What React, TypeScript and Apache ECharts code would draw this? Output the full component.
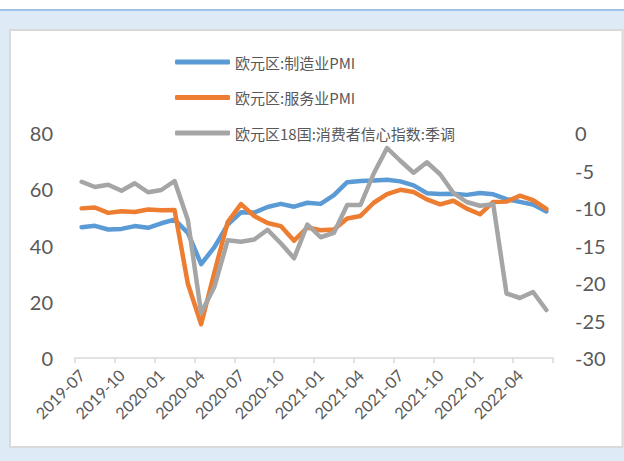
import React, { useEffect, useRef } from "react";
import * as echarts from "echarts";

const months: string[] = [
  "2019-07", "2019-08", "2019-09", "2019-10", "2019-11", "2019-12",
  "2020-01", "2020-02", "2020-03", "2020-04", "2020-05", "2020-06",
  "2020-07", "2020-08", "2020-09", "2020-10", "2020-11", "2020-12",
  "2021-01", "2021-02", "2021-03", "2021-04", "2021-05", "2021-06",
  "2021-07", "2021-08", "2021-09", "2021-10", "2021-11", "2021-12",
  "2022-01", "2022-02", "2022-03", "2022-04", "2022-05", "2022-06",
];

const manufacturingPMI: number[] = [
  46.5, 47.0, 45.7, 45.9, 46.9, 46.3, 47.9, 49.2, 44.5, 33.4, 39.4, 47.4,
  51.8, 51.7, 53.7, 54.8, 53.8, 55.2, 54.8, 57.9, 62.5, 62.9, 63.1, 63.4,
  62.8, 61.4, 58.6, 58.3, 58.4, 58.0, 58.7, 58.2, 56.5, 55.5, 54.6, 52.1,
];

const servicesPMI: number[] = [
  53.2, 53.5, 51.6, 52.2, 51.9, 52.8, 52.5, 52.6, 26.4, 12.0, 30.5, 48.3,
  54.7, 50.5, 48.0, 46.9, 41.7, 46.4, 45.4, 45.7, 49.6, 50.5, 55.2, 58.3,
  59.8, 59.0, 56.4, 54.6, 55.9, 53.1, 51.1, 55.5, 55.6, 57.7, 56.1, 53.0,
];

const consumerConfidence: number[] = [
  -6.5, -7.2, -6.9, -7.7, -6.7, -7.9, -7.6, -6.4, -11.6, -24.0, -20.5, -14.3,
  -14.5, -14.2, -12.9, -14.7, -16.7, -12.2, -13.9, -13.3, -9.6, -9.6, -5.4, -2.0,
  -3.7, -5.3, -3.9, -5.5, -8.0, -9.2, -9.7, -9.5, -21.4, -22.0, -21.2, -23.6,
];

const seriesNames: string[] = [
  "欧元区:制造业PMI",
  "欧元区:服务业PMI",
  "欧元区18国:消费者信心指数:季调",
];

const textColor = "#595959";
const numFont = "Lato, 'Noto Sans', sans-serif";
const cjkFont = "'Noto Sans CJK SC', 'Noto Sans', sans-serif";

export default function App() {
  const ref = useRef<HTMLDivElement>(null);
  useEffect(() => {
    if (!ref.current) return;
    const chart = echarts.init(ref.current, null, { renderer: "svg" });
    const lineStyle = (color: string) => ({
      color,
      width: 4.5,
      cap: "round" as const,
      join: "round" as const,
    });
    chart.setOption({
      animation: false,
      backgroundColor: "#deebf7",
      graphic: [
        { type: "rect", silent: true, z: -10, shape: { x: 0, y: 0, width: 624, height: 9 }, style: { fill: "#ffffff" } },
        { type: "rect", silent: true, z: -10, shape: { x: 0, y: 9, width: 624, height: 2 }, style: { fill: "#9dc3e6" } },
        {
          type: "rect",
          silent: true,
          z: -10,
          shape: { x: 10, y: 30, width: 612.5, height: 417 },
          style: { fill: "#ffffff", stroke: "#d9d9d9", lineWidth: 2 },
        },
      ],
      legend: {
        orient: "vertical",
        left: 170,
        top: 49.5,
        itemWidth: 55,
        itemHeight: 5,
        itemGap: 20.5,
        icon: "roundRect",
        textStyle: { color: textColor, fontSize: 15, fontFamily: cjkFont },
        data: seriesNames,
      },
      grid: { left: 75, right: 71, top: 133, bottom: 103, containLabel: false },
      xAxis: {
        type: "category",
        data: months,
        boundaryGap: true,
        axisLine: { lineStyle: { color: "#d9d9d9", width: 1.5 } },
        axisTick: { show: true, interval: 2, length: 5, lineStyle: { color: "#d9d9d9", width: 1.5 } },
        axisLabel: {
          interval: 2,
          rotate: 45,
          color: textColor,
          fontSize: 16,
          fontFamily: numFont,
          margin: 14,
        },
      },
      yAxis: [
        {
          type: "value",
          min: 0,
          max: 80,
          interval: 20,
          axisLine: { show: false },
          axisTick: { show: false },
          splitLine: { show: false },
          axisLabel: { color: textColor, fontSize: 20, fontFamily: numFont, margin: 22 },
        },
        {
          type: "value",
          min: -30,
          max: 0,
          interval: 5,
          position: "right",
          axisLine: { show: false },
          axisTick: { show: false },
          splitLine: { show: false },
          axisLabel: { color: textColor, fontSize: 20, fontFamily: numFont, margin: 22 },
        },
      ],
      series: [
        {
          name: seriesNames[0],
          type: "line",
          data: manufacturingPMI,
          yAxisIndex: 0,
          symbol: "none",
          color: "#5b9bd5",
          lineStyle: lineStyle("#5b9bd5"),
          z: 3,
        },
        {
          name: seriesNames[1],
          type: "line",
          data: servicesPMI,
          yAxisIndex: 0,
          symbol: "none",
          color: "#ed7d31",
          lineStyle: lineStyle("#ed7d31"),
          z: 4,
        },
        {
          name: seriesNames[2],
          type: "line",
          data: consumerConfidence,
          yAxisIndex: 1,
          symbol: "none",
          color: "#a5a5a5",
          lineStyle: lineStyle("#a5a5a5"),
          z: 5,
        },
      ],
    });
    return () => chart.dispose();
  }, []);
  return (
    <div
      ref={ref}
      style={{ position: "absolute", left: 0, top: 0, width: 624, height: 461 }}
    />
  );
}
